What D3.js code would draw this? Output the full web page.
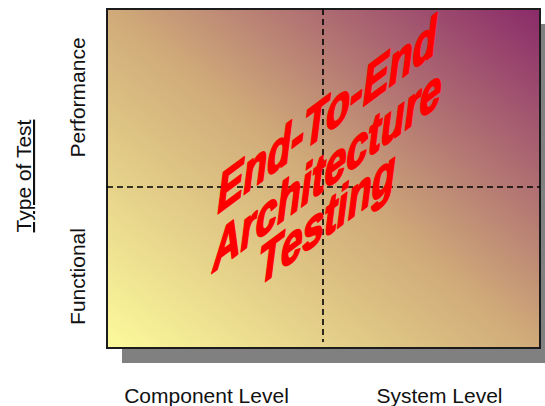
<!DOCTYPE html>
<html>
<head>
<meta charset="utf-8">
<script src="https://cdn.jsdelivr.net/npm/d3@7/dist/d3.min.js"></script>
<style>
  html, body { margin: 0; padding: 0; background: #ffffff; }
  svg { display: block; }
</style>
</head>
<body>
<script>
// Quadrant categories and labels
const xLevels = ["Component Level", "System Level"];
const yTypes = ["Functional", "Performance"];
const yTitle = "Type of Test";
const bannerLines = ["End-To-End", "Architecture", "Testing"];

const W = 545, H = 406;
const frame = { left: 107, top: 9, right: 540, bottom: 348 };
const shadowOffset = 15;

const svg = d3.select("body").append("svg")
  .attr("width", W).attr("height", H);

const defs = svg.append("defs");
const grad = defs.append("linearGradient")
  .attr("id", "quadFill")
  .attr("x1", 0).attr("y1", 1).attr("x2", 1).attr("y2", 0);
grad.append("stop").attr("offset", 0).attr("stop-color", "#fcfa9c");
grad.append("stop").attr("offset", 0.5).attr("stop-color", "#d0ab79");
grad.append("stop").attr("offset", 1).attr("stop-color", "#8a2a6a");

// Category scales: bands split the frame into four quadrants
const x = d3.scaleBand().domain(xLevels).range([90, 556]);
const y = d3.scaleBand().domain(yTypes).range([366, 8]);

// Drop shadow behind the frame
svg.append("rect")
  .attr("x", frame.left + shadowOffset)
  .attr("y", frame.top + shadowOffset)
  .attr("width", frame.right - frame.left)
  .attr("height", frame.bottom - frame.top)
  .attr("fill", "#808080");

// Gradient frame
svg.append("rect")
  .attr("x", frame.left)
  .attr("y", frame.top)
  .attr("width", frame.right - frame.left)
  .attr("height", frame.bottom - frame.top)
  .attr("fill", "url(#quadFill)")
  .attr("stroke", "#1c1c1c")
  .attr("stroke-width", 2);

// Quadrant dividers
const xDiv = x(xLevels[1]);
const yDiv = y(yTypes[0]);
svg.append("line")
  .attr("x1", xDiv).attr("x2", xDiv)
  .attr("y1", frame.top).attr("y2", frame.bottom - 6)
  .attr("stroke", "#000").attr("stroke-width", 1.6)
  .attr("stroke-dasharray", "6,4");
svg.append("line")
  .attr("x1", frame.left).attr("x2", frame.right)
  .attr("y1", yDiv).attr("y2", yDiv)
  .attr("stroke", "#000").attr("stroke-width", 1.6)
  .attr("stroke-dasharray", "6,4");

const labelFont = "'Liberation Sans', Arial, sans-serif";

// Bottom category labels
svg.append("g").selectAll("text")
  .data(xLevels).join("text")
  .attr("x", d => x(d) + x.bandwidth() / 2)
  .attr("y", 403)
  .attr("text-anchor", "middle")
  .attr("font-family", labelFont)
  .attr("font-size", 21)
  .attr("fill", "#111")
  .text(d => d);

// Side category labels
svg.append("g").selectAll("text")
  .data(yTypes).join("text")
  .attr("transform", d => `translate(85,${y(d) + y.bandwidth() / 2}) rotate(-90)`)
  .attr("text-anchor", "middle")
  .attr("font-family", labelFont)
  .attr("font-size", 21)
  .attr("fill", "#111")
  .text(d => d);

// Axis title
svg.append("text")
  .attr("transform", `translate(31,176) rotate(-90)`)
  .attr("text-anchor", "middle")
  .attr("font-family", labelFont)
  .attr("font-size", 21)
  .attr("text-decoration", "underline")
  .attr("fill", "#111")
  .text(yTitle);

// Slanted red banner text
const bannerBase = [133, 188, 236];
const banner = svg.append("g")
  .attr("transform", "translate(327,0)");
banner.selectAll("text")
  .data(bannerLines).join("text")
  .attr("transform", (d, i) => `translate(0,${bannerBase[i]}) skewY(-36.5) scale(0.72,1)`)
  .attr("text-anchor", "middle")
  .attr("font-family", labelFont)
  .attr("font-weight", "bold")
  .attr("font-style", "italic")
  .attr("font-size", 54)
  .attr("fill", "#ff0000")
  .attr("stroke", "#ff0000")
  .attr("stroke-width", 2)
  .attr("stroke-linejoin", "round")
  .text(d => d);
</script>
</body>
</html>
